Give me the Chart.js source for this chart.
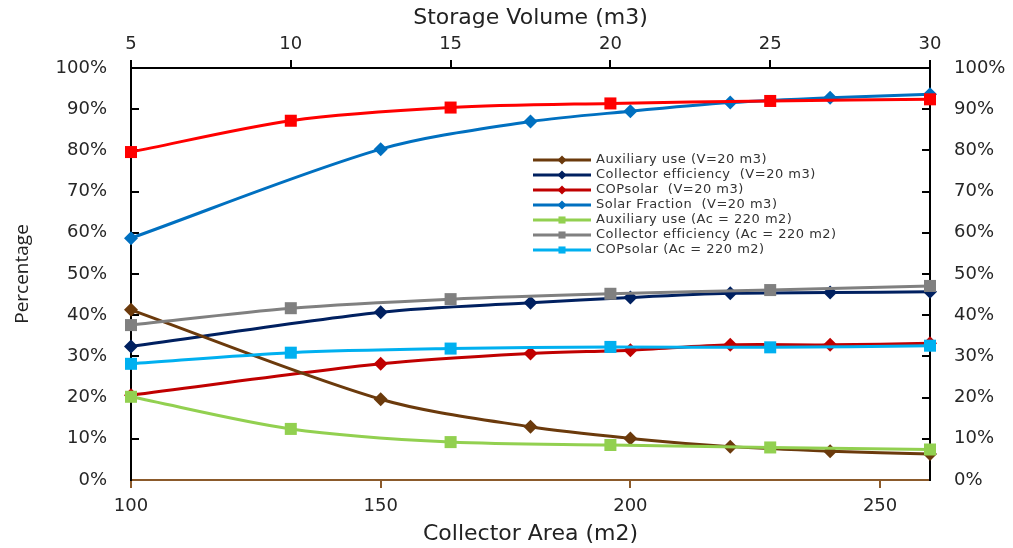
<!DOCTYPE html>
<html>
<head>
<meta charset="utf-8">
<script src="https://cdn.jsdelivr.net/npm/chart.js@4/dist/chart.umd.min.js"></script>
<style>
  body { margin: 0; background: #fff; }
  #wrap { width: 1013px; height: 548px; }
</style>
</head>
<body>
<div id="wrap"><canvas id="chart"></canvas></div>
<script>
// bottom axis: collector area (V = 20 m3 series)
const collectorArea = [100, 150, 180, 200, 220, 240, 260];
const auxUseV = [41.3, 19.6, 12.9, 10.1, 8.1, 7.0, 6.3];
const collEffV = [32.4, 40.7, 43.0, 44.3, 45.3, 45.5, 45.7];
const copSolarV = [20.6, 28.2, 30.7, 31.5, 32.8, 32.8, 33.2];
const solarFracV = [58.7, 80.3, 87.0, 89.5, 91.6, 92.8, 93.6];

// top axis: storage volume (Ac = 220 m2 series)
const storageVolume = [5, 10, 15, 20, 25, 30];
const auxUseAc = [20.2, 12.4, 9.2, 8.5, 7.9, 7.4];
const collEffAc = [37.6, 41.7, 43.9, 45.2, 46.1, 47.1];
const copSolarAc = [28.2, 30.9, 31.9, 32.3, 32.2, 32.6];
const solarFracAc = [79.6, 87.2, 90.4, 91.4, 92.0, 92.4];

const tickFont = { family: "DejaVu Sans", size: 18 };
const titleFont = { family: "DejaVu Sans", size: 22 };

function series(label, xs, ys, color, shape, axis, inLegend) {
  return {
    label: label,
    data: xs.map((x, i) => ({ x: x, y: ys[i] })),
    xAxisID: axis,
    yAxisID: "y",
    borderColor: color,
    backgroundColor: color,
    borderWidth: 3,
    pointStyle: shape,
    pointRadius: shape === "rect" ? 8.5 : 7,
    pointBorderWidth: 0,
    tension: 0.3,
    clip: false,
    order: axis === "x2" ? 0 : 1,
    inLegend: inLegend
  };
}

const datasets = [
  series("Auxiliary use (V=20 m3)", collectorArea, auxUseV, "#6b3a0c", "rectRot", "x", true),
  series("Collector efficiency  (V=20 m3)", collectorArea, collEffV, "#002060", "rectRot", "x", true),
  series("COPsolar  (V=20 m3)", collectorArea, copSolarV, "#c00000", "rectRot", "x", true),
  series("Solar Fraction  (V=20 m3)", collectorArea, solarFracV, "#0070c0", "rectRot", "x", true),
  series("Auxiliary use (Ac = 220 m2)", storageVolume, auxUseAc, "#92d050", "rect", "x2", true),
  series("Collector efficiency (Ac = 220 m2)", storageVolume, collEffAc, "#808080", "rect", "x2", true),
  series("COPsolar (Ac = 220 m2)", storageVolume, copSolarAc, "#00b0f0", "rect", "x2", true),
  series("Solar Fraction (Ac = 220 m2)", storageVolume, solarFracAc, "#ff0000", "rect", "x2", false)
];

// legend drawn inside the plot area
const insideLegend = {
  id: "insideLegend",
  afterDraw(chart) {
    const ctx = chart.ctx;
    const x0 = chart.chartArea.left + 402;
    const y0 = chart.chartArea.top + 92;
    ctx.save();
    ctx.font = '13px "DejaVu Sans"';
    ctx.letterSpacing = "0.5px";
    ctx.textBaseline = "middle";
    let row = 0;
    chart.data.datasets.forEach(ds => {
      if (!ds.inLegend) return;
      const y = y0 + row * 15;
      ctx.strokeStyle = ds.borderColor;
      ctx.lineWidth = 3;
      ctx.beginPath();
      ctx.moveTo(x0, y);
      ctx.lineTo(x0 + 58, y);
      ctx.stroke();
      ctx.fillStyle = ds.borderColor;
      Chart.helpers.drawPoint(ctx, {
        pointStyle: ds.pointStyle,
        radius: ds.pointStyle === "rect" ? 5 : 4.5,
        borderWidth: 0
      }, x0 + 29, y);
      ctx.fillStyle = "#333";
      ctx.fillText(ds.label, x0 + 63, y);
      row++;
    });
    ctx.restore();
  }
};

const pct = v => v + "%";

new Chart(document.getElementById("chart"), {
  type: "line",
  data: { datasets: datasets },
  options: {
    responsive: true,
    maintainAspectRatio: false,
    animation: false,
    layout: { padding: 0 },
    plugins: { legend: { display: false }, tooltip: { enabled: false } },
    scales: {
      x: {
        type: "linear", position: "bottom", min: 100, max: 260,
        afterFit: s => { s.height = 68; },
        afterBuildTicks: s => { s.ticks = s.ticks.filter(t => t.value % 50 === 0); },
        ticks: { stepSize: 50, padding: 8, color: "#262626", font: tickFont },
        grid: { drawOnChartArea: false, tickLength: 8, color: "#8b5a2b", lineWidth: 2 },
        border: { color: "#8b5a2b", width: 2 },
        title: { display: true, text: "Collector Area (m2)", color: "#222", font: titleFont, padding: { top: 0, bottom: 1 } }
      },
      x2: {
        type: "linear", position: "top", min: 5, max: 30,
        afterFit: s => { s.height = 68; },
        ticks: { stepSize: 5, padding: 5, color: "#262626", font: tickFont },
        grid: { drawOnChartArea: false, tickLength: 8, color: "#000", lineWidth: 2 },
        border: { color: "#000", width: 2 },
        title: { display: true, text: "Storage Volume (m3)", color: "#222", font: titleFont, padding: { top: 5, bottom: 0 } }
      },
      y: {
        position: "left", min: 0, max: 100,
        afterFit: s => { s.width = 131; },
        ticks: { stepSize: 10, padding: 32, color: "#262626", font: tickFont, callback: pct },
        grid: { drawOnChartArea: false, tickLength: -8, color: "#000", lineWidth: 2 },
        border: { color: "#000", width: 2 },
        title: { display: true, text: "Percentage", color: "#222", font: { family: "Open Sans", size: 19 }, padding: { top: 11, bottom: 0 } }
      },
      y2: {
        position: "right", min: 0, max: 100,
        afterFit: s => { s.width = 83; },
        ticks: { stepSize: 10, padding: 32, color: "#262626", font: tickFont, callback: pct },
        grid: { drawOnChartArea: false, tickLength: -8, color: "#000", lineWidth: 2 },
        border: { color: "#000", width: 2 }
      }
    }
  },
  plugins: [insideLegend]
});
</script>
</body>
</html>
